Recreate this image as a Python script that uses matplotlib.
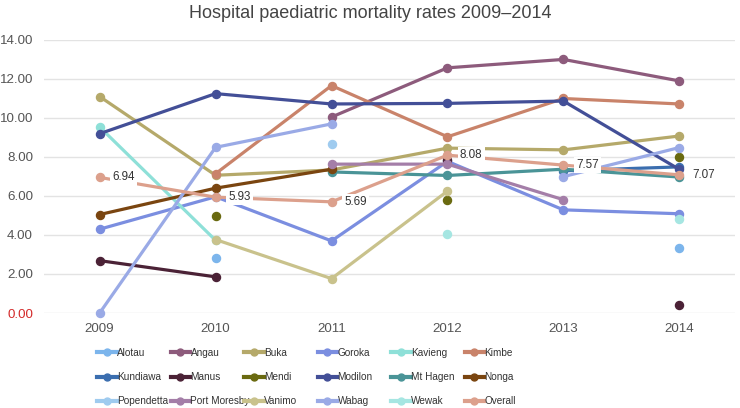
import numpy as np
import matplotlib
matplotlib.use("Agg")
import matplotlib.pyplot as plt
from matplotlib.lines import Line2D

plt.rcParams["font.family"] = ["Liberation Sans", "DejaVu Sans"]

# data (nan = no value for that year)
years = ["2009", "2010", "2011", "2012", "2013", "2014"]
nan = np.nan

alotau = [nan, 2.79, nan, nan, nan, 3.32]
angau = [nan, nan, 10.03, 12.55, 12.98, 11.88]
buka = [11.08, 7.05, 7.32, 8.44, 8.35, 9.06]
goroka = [4.29, 5.95, 3.69, 7.76, 5.28, 5.08]
kavieng = [9.52, 3.72, nan, nan, nan, nan]
kimbe = [nan, 7.13, 11.64, 9.02, 10.98, 10.70]
kundiawa = [nan, nan, nan, nan, 7.28, 7.48]
manus = [2.68, 1.85, nan, 7.82, nan, 0.39]
mendi = [nan, 4.97, nan, 5.80, nan, 7.98]
modilon = [9.18, 11.23, 10.70, 10.73, 10.85, 7.35]
mt_hagen = [nan, nan, 7.22, 7.04, 7.36, 6.96]
nonga = [5.04, 6.39, 7.36, nan, nan, nan]
popendetta = [nan, nan, 8.65, nan, nan, nan]
port_moresby = [nan, nan, 7.62, 7.62, 5.80, nan]
vanimo = [nan, 3.76, 1.76, 6.24, nan, nan]
wabag = [0.0, 8.48, 9.68, nan, 6.98, 8.47]
wewak = [nan, nan, nan, 4.04, nan, 4.80]
overall = [6.94, 5.93, 5.69, 8.08, 7.57, 7.07]

names = ["Alotau", "Angau", "Buka", "Goroka", "Kavieng", "Kimbe",
         "Kundiawa", "Manus", "Mendi", "Modilon", "Mt Hagen", "Nonga",
         "Popendetta", "Port Moresby", "Vanimo", "Wabag", "Wewak", "Overall"]
series = [alotau, angau, buka, goroka, kavieng, kimbe,
          kundiawa, manus, mendi, modilon, mt_hagen, nonga,
          popendetta, port_moresby, vanimo, wabag, wewak, overall]
colors = ["#7cb5ec", "#8d5b7c", "#b5a96a", "#7b8ee0", "#8ee0d8", "#c9836a",
          "#3b6eaf", "#4b2236", "#6a6a10", "#434f97", "#4a9497", "#7a4510",
          "#9fcbef", "#a47ea8", "#c9c28c", "#9aaae6", "#a6e6e2", "#dca08c"]

fig = plt.figure(figsize=(7.4, 4.08), dpi=100)
ax = fig.add_axes([44 / 740, 1 - 313 / 408, 691 / 740, 273.5 / 408])

x = np.arange(len(years))
for name, vals, c in zip(names, series, colors):
    ax.plot(x, vals, color=c, lw=2.3, marker="o", ms=5.8,
            clip_on=False, label=name, zorder=3)

# labels on the Overall series
for xi, v in zip(x, overall):
    ax.annotate(f"{v:.2f}", (xi, v), xytext=(9, 0), textcoords="offset points",
                ha="left", va="center", fontsize=8.4, color="#333333", zorder=10,
                bbox=dict(boxstyle="square,pad=0.2", fc="white", ec="none"))

ax.set_xlim(-0.48, 5.48)
ax.set_ylim(0, 14)
ax.set_xticks(x)
ax.set_xticklabels(years)
ax.set_yticks(np.arange(0, 15, 2))
ax.set_yticklabels([f"{v:.2f}" for v in np.arange(0, 15, 2)])
ax.tick_params(axis="both", length=0, labelsize=9.6, colors="#555555")
ax.tick_params(axis="y", pad=8)
ax.tick_params(axis="x", pad=7)
ax.get_yticklabels()[0].set_color("#d42a2a")
ax.grid(axis="y", color="#e3e3e3", lw=1)
ax.set_axisbelow(True)
for s in ax.spines.values():
    s.set_visible(False)

fig.text(0.5, 1 - 14 / 408, "Hospital paediatric mortality rates 2009\u20132014",
         ha="center", va="center", fontsize=13, color="#444444")

# legend: one column at a time, so spacing stays even
col_x = [97, 170.5, 244, 317.5, 391, 464.5]
for j in range(6):
    hs = [Line2D([], [], color=colors[j + 6 * i], lw=3, marker="o", ms=5)
          for i in range(3)]
    fig.legend(hs, [names[j + 6 * i] for i in range(3)], loc="center left",
               bbox_to_anchor=(col_x[j] / 740, 1 - 377 / 408), frameon=False,
               fontsize=7.2, labelcolor="#333333", handlelength=1.95,
               handletextpad=0.05, labelspacing=1.45, borderpad=0, borderaxespad=0)

fig.savefig("out.png", dpi=100)
